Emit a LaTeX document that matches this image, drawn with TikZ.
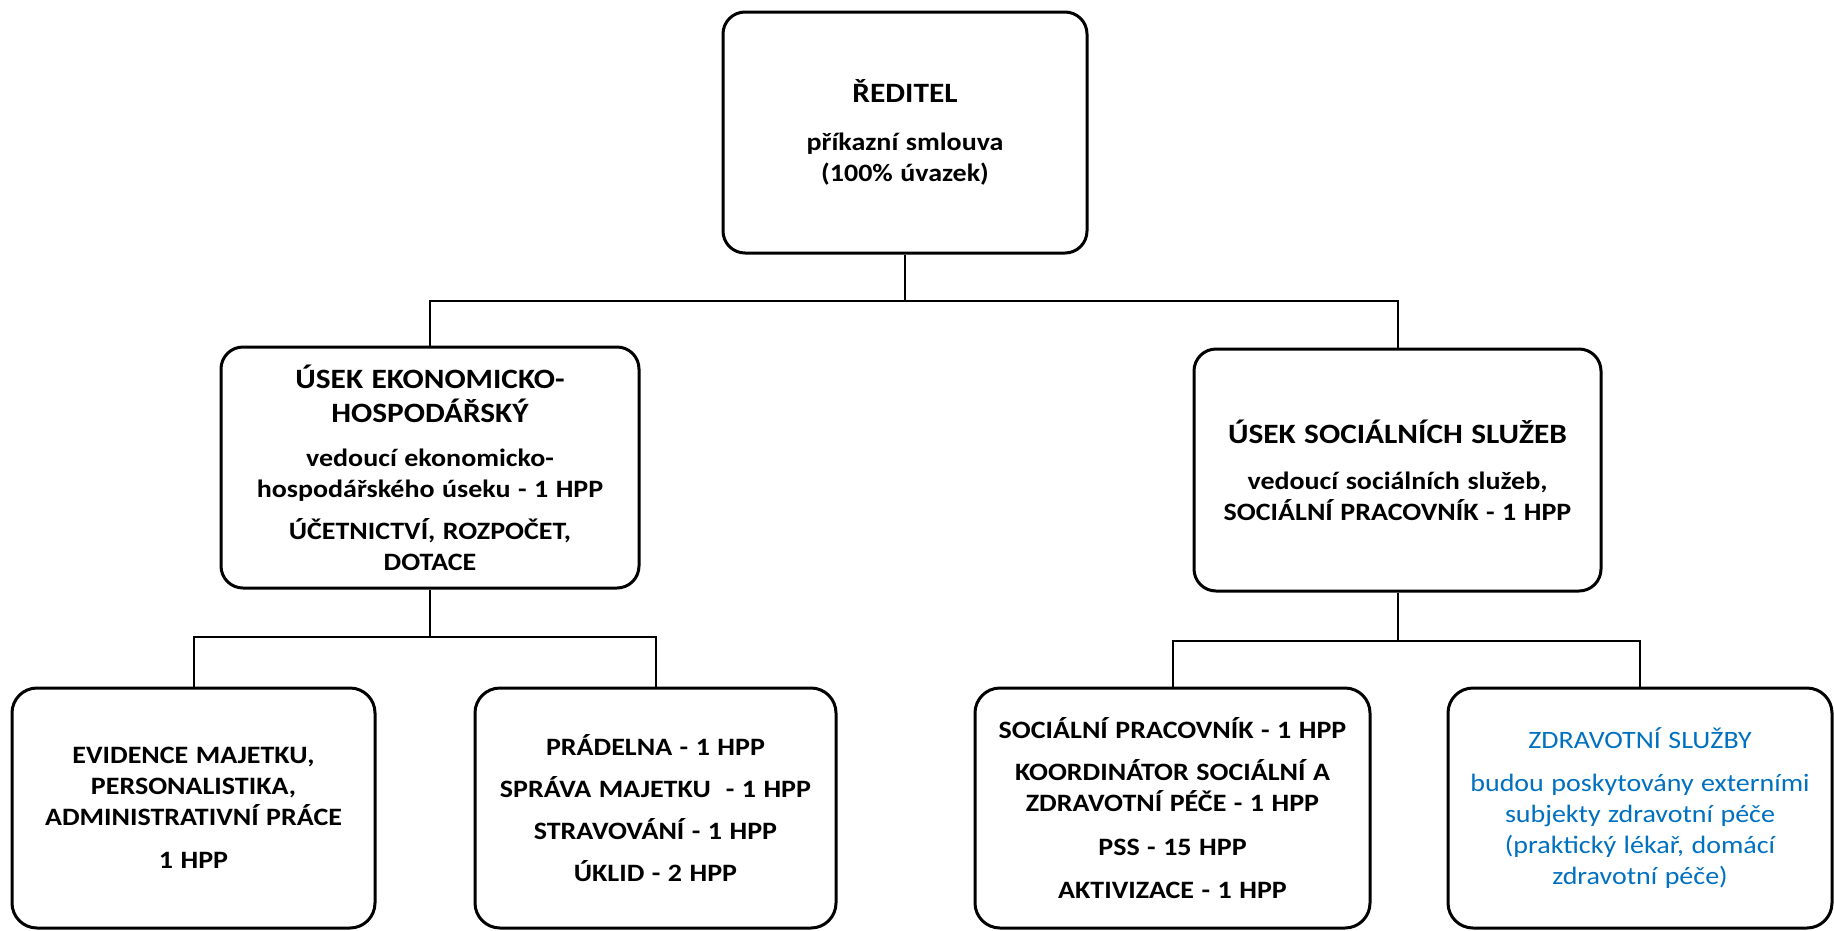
\documentclass[tikz,border=0pt]{standalone}
\usepackage{fontspec}
\setmainfont{Carlito}[FakeStretch=1.12]
\definecolor{zdrblue}{RGB}{0,112,192}
\newcommand\myhead[1]{{\fontsize{28}{34}\selectfont\spaceskip=0.3em #1\par}}
\newcommand\mybody[1]{{\fontsize{25}{31}\selectfont\spaceskip=0.3em #1\par}}
\newcommand\mygap[1]{\vspace{#1pt}}
\begin{document}
\begin{tikzpicture}[x=1pt,y=-1pt,
  box/.style={draw=black, line width=3pt, rounded corners=22pt, inner sep=0pt,
    align=center, font=\bfseries},
  conn/.style={draw=black, line width=2pt}]
\useasboundingbox (0,0) rectangle (1834,930);
\clip (0,0) rectangle (1834,930);

\node[box, text width=364pt, minimum height=241pt] (top) at (905,132.5)
  {\myhead{ŘEDITEL}\mygap{17}\mybody{příkazní smlouva\\(100\% úvazek)}};

\node[box, text width=418pt, minimum height=241pt] (midL) at (430,467.5)
  {\myhead{ÚSEK EKONOMICKO-\\HOSPODÁŘSKÝ}\mygap{13}%
   \mybody{vedoucí ekonomicko-\\hospodářského úseku - 1 HPP}\mygap{11}%
   \mybody{ÚČETNICTVÍ, ROZPOČET,\\DOTACE}};

\node[box, text width=407pt, minimum height=242pt] (midR) at (1397.5,470)
  {\myhead{ÚSEK SOCIÁLNÍCH SLUŽEB}\mygap{15}%
   \mybody{vedoucí sociálních služeb,\\SOCIÁLNÍ PRACOVNÍK - 1 HPP}};

\node[box, rounded corners=25pt, text width=363pt, minimum height=240pt] (a) at (193.5,808)
  {\mybody{EVIDENCE MAJETKU,\\PERSONALISTIKA,\\ADMINISTRATIVNÍ PRÁCE}\mygap{12}\mybody{1 HPP}};

\node[box, rounded corners=25pt, text width=361pt, minimum height=240pt] (b) at (655.5,808)
  {\mybody{PRÁDELNA - 1 HPP}\mygap{11}\mybody{SPRÁVA MAJETKU \ - 1 HPP}\mygap{11}%
   \mybody{STRAVOVÁNÍ - 1 HPP}\mygap{11}\mybody{ÚKLID - 2 HPP}};

\node[box, rounded corners=25pt, text width=395pt, minimum height=240pt] (c) at (1172.5,808)
  {\mybody{SOCIÁLNÍ PRACOVNÍK - 1 HPP}\mygap{11}%
   \mybody{KOORDINÁTOR SOCIÁLNÍ A\\ZDRAVOTNÍ PÉČE - 1 HPP}\mygap{13}%
   \mybody{PSS - 15 HPP}\mygap{12}\mybody{AKTIVIZACE - 1 HPP}};

\node[box, rounded corners=25pt, font=\mdseries, text=zdrblue, text width=384pt, minimum height=240pt] (d) at (1640,808)
  {\mybody{ZDRAVOTNÍ SLUŽBY}\mygap{12}%
   \mybody{budou poskytovány externími\\subjekty zdravotní péče\\(praktický lékař, domácí\\zdravotní péče)}};

\coordinate (bus1) at (0,301);
\coordinate (bus2) at (0,637);
\coordinate (bus3) at (0,641);

\draw[conn] (top.south) -- (top.south |- bus1);
\draw[conn] (midL.north) |- (top.south |- bus1) -| (midR.north);

\draw[conn] (midL.south) -- (midL.south |- bus2);
\draw[conn] (a.north) |- (midL.south |- bus2) -| (b.north);

\draw[conn] (midR.south) -- (midR.south |- bus3);
\draw[conn] (c.north) |- (midR.south |- bus3) -| (d.north);
\end{tikzpicture}
\end{document}
